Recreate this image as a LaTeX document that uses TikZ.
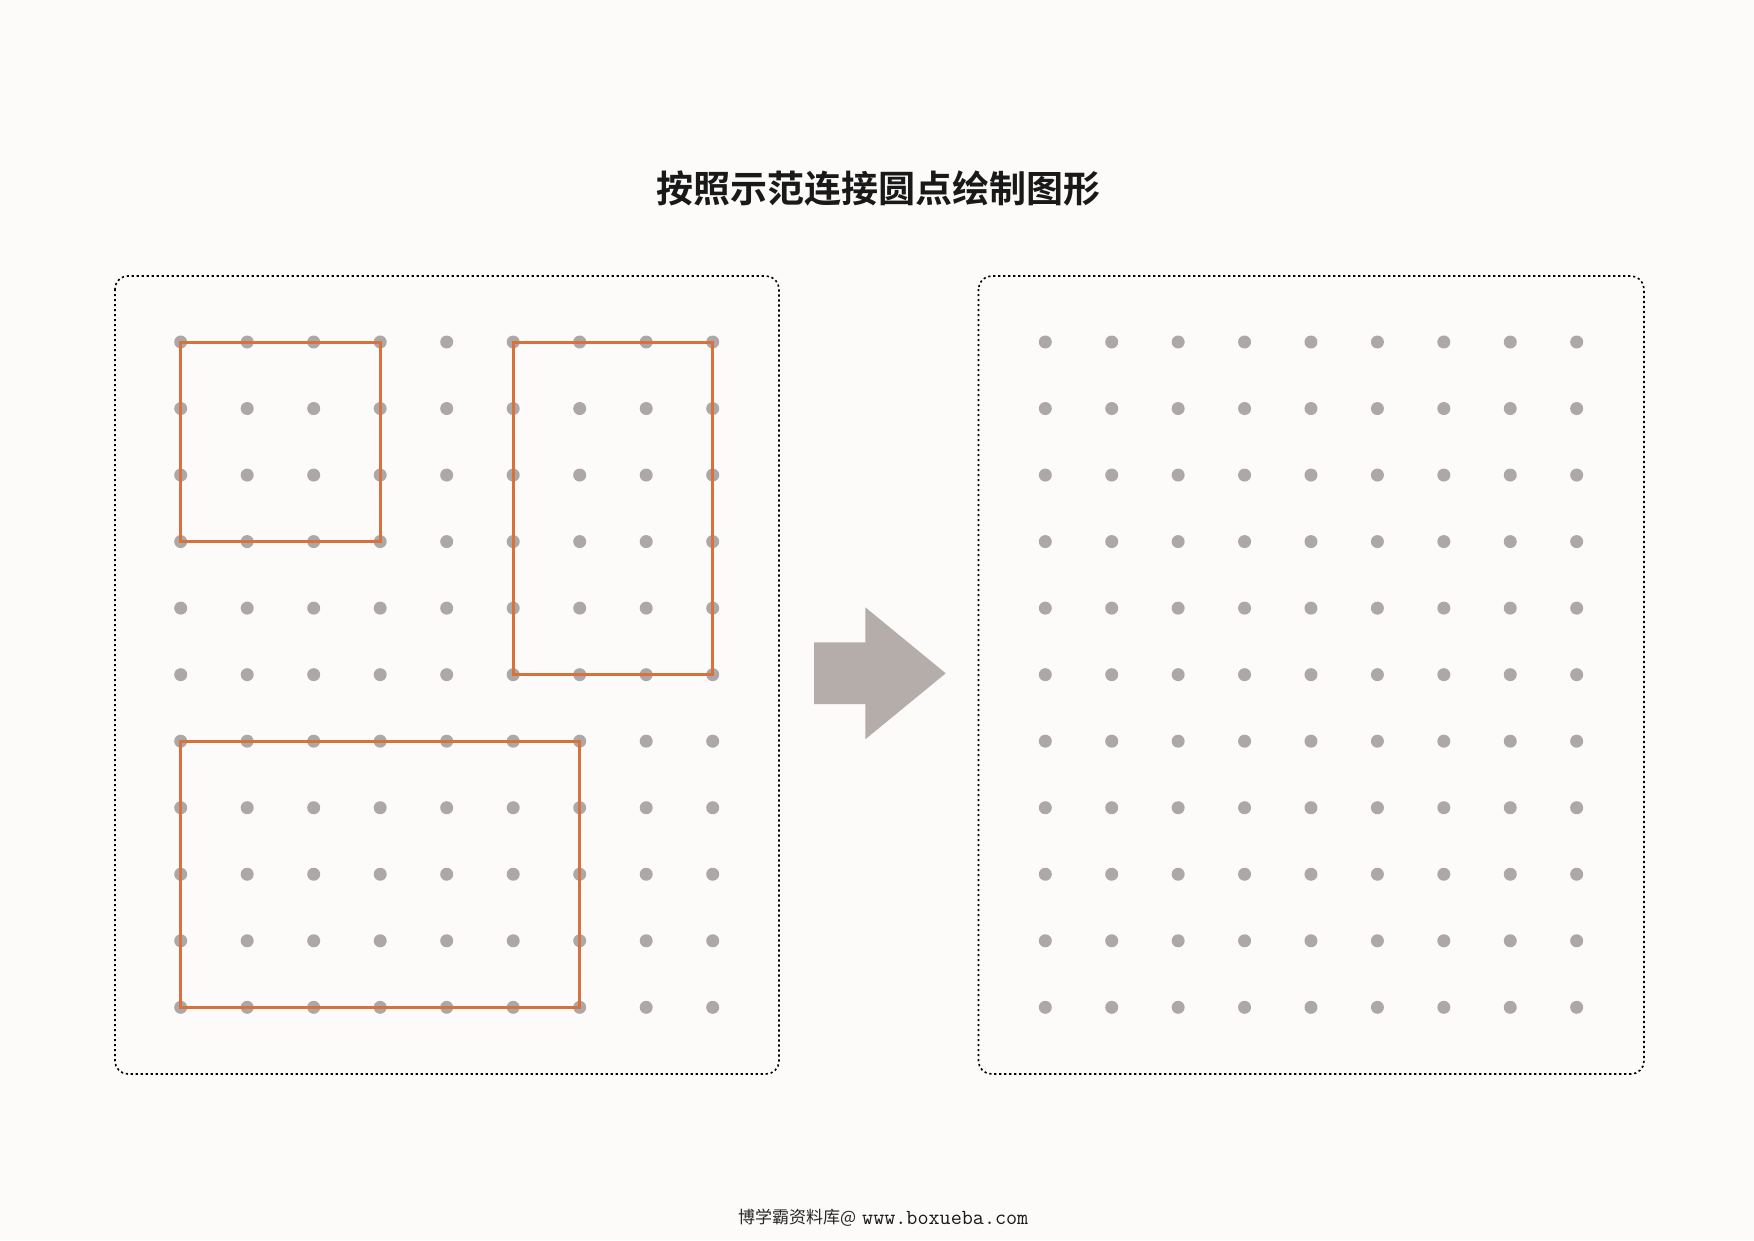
\documentclass[tikz,border=0pt]{standalone}
\usepackage{fontspec}
\newfontfamily\cjk{Noto Sans CJK SC}
\newfontfamily\cjkb{Noto Sans CJK SC Bold}
\definecolor{bgc}{RGB}{252,251,249}
\definecolor{dotc}{RGB}{173,167,167}
\definecolor{orc}{RGB}{214,114,60}
\definecolor{arrc}{RGB}{180,173,170}
\tikzset{
  frame/.style={draw=black, line width=1.6pt, dash pattern=on 2.2pt off 2.8pt, rounded corners=13pt},
  gdot/.style={fill=dotc},
  orect/.style={draw=orc, line width=3pt, line join=miter},
}
\begin{document}
\begin{tikzpicture}[x=1pt,y=-1pt]
\useasboundingbox (0,0) rectangle (1754,1240);
\fill[bgc] (0,0) rectangle (1754,1240);
% title
\node[font=\cjkb\fontsize{37}{37}\selectfont, text=black!90] (title) at (878,188) {按照示范连接圆点绘制图形};
% frames
\draw[frame] (115,276) rectangle (779,1074);
\draw[frame] (978.5,276) rectangle (1644,1074);
% grids
\foreach \i in {0,...,8}{
  \foreach \j in {0,...,10}{
    \coordinate (L-\i-\j) at ({180.7+66.5*\i},{342+66.53*\j});
    \coordinate (R-\i-\j) at ({1045.3+66.42*\i},{342+66.53*\j});
    \fill[gdot] (L-\i-\j) circle (6.5);
    \fill[gdot] (R-\i-\j) circle (6.5);
  }
}
% orange rectangles
\draw[orect] (L-0-0) rectangle (L-3-3);
\draw[orect] (L-5-0) rectangle (L-8-5);
\draw[orect] (L-0-6) rectangle (L-6-10);
% arrow
\fill[arrc] (814,642.3) -- (865.3,642.3) -- (865.3,607.3) -- (945.7,673.3) -- (865.3,739.3) -- (865.3,704) -- (814,704) -- cycle;
% footer
\node[anchor=west, inner sep=0pt, font=\cjk\fontsize{17}{17}\selectfont, text=black!85] (footcn) at (738,1217.5) {博学霸资料库@};
\node[anchor=west, inner sep=0pt, font=\ttfamily\fontsize{21.5}{22}\selectfont, text=black!90] (footurl) at (862,1217.5) {www.boxueba.com};
\end{tikzpicture}
\end{document}
